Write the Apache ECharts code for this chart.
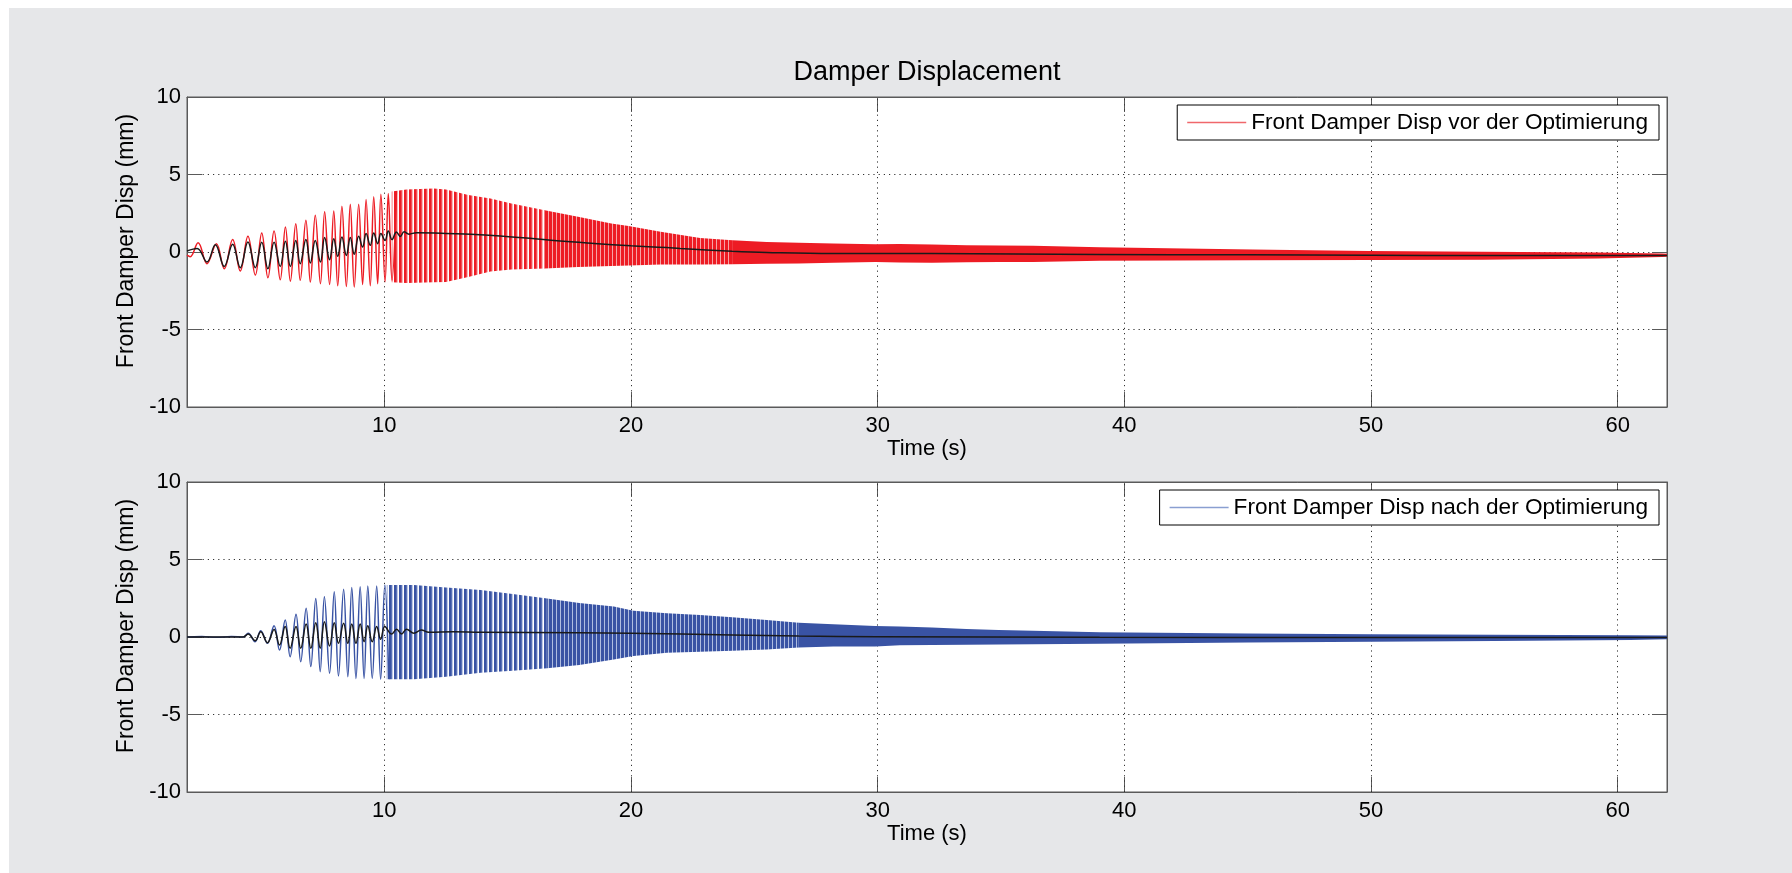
<!DOCTYPE html>
<html><head><meta charset="utf-8">
<script src="https://cdn.jsdelivr.net/npm/echarts@6/dist/echarts.min.js"></script>
<style>
html,body{margin:0;padding:0;background:#fff;width:1792px;height:873px;overflow:hidden}
#c{position:absolute;left:9px;top:8px;width:1783px;height:865px;}
</style></head>
<body><div id="c"></div>
<script>
// ---------- data ----------
const xTickLabels = [10, 20, 30, 40, 50, 60];

// Top plot: red signal, individual visible extrema (t, value)
const redT = [2.0,2.13,2.45,2.81,3.19,3.51,3.85,4.16,4.47,4.77,5.03,5.28,5.53,5.78,5.99,6.19,6.41,6.59,6.82,7.0,7.2,7.41,7.58,7.78,7.95,8.11,8.28,8.46,8.62,8.78,8.96,9.12,9.26,9.43,9.57,9.73,9.86,10.03,10.16,10.31,10.49];
const redV = [-0.2,-0.3,0.6,-0.75,0.54,-1.08,0.8,-1.23,1.01,-1.49,1.23,-1.66,1.36,-1.79,1.62,-1.88,1.83,-1.83,2.05,-1.94,2.37,-2.05,2.59,-2.09,2.65,-2.18,2.95,-2.22,3.08,-2.26,3.08,-2.09,3.38,-2.18,3.56,-2.05,3.73,-1.92,3.77,-1.83,3.94];
// Top plot: red dense part, envelope (upper / lower)
const redBandT  = [10.3,10.9,12.0,12.5,13.4,14.3,15.15,16.5,17.85,19.2,19.9,21.2,22.8,24.1,25.5,26.8,28.2,29.9,30.9,32.2,33.6,34.9,36.3,39.0,45.2,49.9,54.5,59.2,61.8,62.0];
const redBandHi = [3.9,4.03,4.1,4.03,3.67,3.45,3.13,2.7,2.27,1.84,1.67,1.3,0.91,0.76,0.65,0.59,0.55,0.5,0.52,0.48,0.44,0.42,0.4,0.3,0.16,0.07,0.02,-0.03,-0.1,-0.12];
const redBandLo = [-1.95,-2.0,-1.95,-1.93,-1.61,-1.25,-1.13,-1.06,-0.96,-0.9,-0.87,-0.8,-0.8,-0.79,-0.76,-0.74,-0.7,-0.64,-0.68,-0.7,-0.66,-0.64,-0.64,-0.57,-0.53,-0.51,-0.5,-0.42,-0.32,-0.3];
// Top plot: black curve
const blackTopT = [2.0,2.41,2.81,3.15,3.51,3.85,4.16,4.47,4.77,5.03,5.28,5.53,5.78,5.99,6.19,6.41,6.59,6.82,7.0,7.2,7.41,7.58,7.78,7.95,8.11,8.28,8.46,8.62,8.78,8.96,9.12,9.26,9.43,9.57,9.73,9.86,10.03,10.16,10.31,10.49,10.65,10.8,11.0,11.3,12.5,13.5,14.7,16.0,17.0,18.5,20.0,21.45,22.0,24.1,25.5,28.2,30.0,32.2,39.0,45.0,50.0,54.5,59.0,62.0];
const blackTopV = [0.06,0.22,-0.65,0.47,-0.93,0.5,-1.01,0.65,-1.01,0.63,-1.08,0.63,-0.93,0.69,-0.93,0.75,-0.75,0.8,-0.71,0.75,-0.65,0.93,-0.5,0.86,-0.28,0.97,-0.22,0.93,-0.15,1.01,0.32,1.19,0.43,1.23,0.54,1.19,0.75,1.36,0.8,1.29,1.0,1.3,1.15,1.25,1.19,1.15,1.04,0.87,0.72,0.55,0.4,0.29,0.22,0.05,-0.03,-0.1,-0.1,-0.1,-0.16,-0.18,-0.21,-0.23,-0.23,-0.22];

// Bottom plot: blue signal, visible extrema
const blueT = [2.0,2.6,3.2,3.8,4.28,4.48,4.76,4.99,5.26,5.53,5.75,5.98,6.18,6.42,6.61,6.83,7.02,7.22,7.4,7.57,7.78,7.97,8.14,8.35,8.52,8.68,8.85,9.02,9.18,9.33,9.51,9.69,9.85,10.02,10.18];
const blueV = [0.0,0.03,-0.02,0.03,0.0,0.24,-0.3,0.41,-0.41,0.73,-0.84,1.1,-1.27,1.46,-1.59,1.85,-1.91,2.49,-2.24,2.6,-2.34,2.92,-2.52,3.08,-2.56,3.2,-2.67,3.25,-2.67,3.29,-2.67,3.29,-2.73,3.35,-2.73];
// Bottom plot: blue dense part, envelope
const blueBandT  = [10.1,11.2,12.5,13.9,15.2,16.6,17.9,19.3,20.1,21.45,22.8,24.1,25.5,26.8,28.2,29.9,30.9,32.2,33.6,34.9,36.3,39.0,45.0,50.0,55.0,60.5,62.0];
const blueBandHi = [3.35,3.35,3.2,3.03,2.77,2.49,2.2,1.96,1.7,1.53,1.42,1.27,1.1,0.92,0.82,0.71,0.67,0.62,0.52,0.45,0.41,0.3,0.22,0.18,0.15,0.12,0.1];
const blueBandLo = [-2.73,-2.73,-2.56,-2.3,-2.17,-2.02,-1.81,-1.45,-1.23,-1.01,-0.95,-0.88,-0.8,-0.67,-0.62,-0.62,-0.54,-0.52,-0.5,-0.49,-0.47,-0.43,-0.35,-0.3,-0.25,-0.19,-0.15];
// Bottom plot: black curve
const blackBotT = [2.0,4.28,4.48,4.76,4.99,5.26,5.53,5.75,5.98,6.18,6.42,6.61,6.83,7.02,7.22,7.4,7.57,7.78,7.97,8.14,8.35,8.52,8.68,8.85,9.02,9.18,9.33,9.51,9.69,9.85,10.02,10.3,10.5,10.7,10.9,11.2,11.5,11.8,12.8,13.9,17.9,20.0,24.1,26.8,30.0,39.0,50.0,62.0];
const blackBotV = [0.0,0.0,0.19,-0.24,0.34,-0.37,0.49,-0.52,0.67,-0.73,0.67,-0.73,0.84,-0.73,0.92,-0.73,0.99,-0.58,0.92,-0.41,0.88,-0.41,0.84,-0.41,0.84,-0.3,0.73,-0.3,0.67,-0.15,0.67,0.19,0.5,0.2,0.5,0.25,0.45,0.3,0.34,0.3,0.28,0.24,0.13,0.06,0.02,-0.02,-0.03,-0.03];

const nameRed = 'Front Damper Disp vor der Optimierung';
const nameBlue = 'Front Damper Disp nach der Optimierung';

// ---------- styles ----------
const FONT = '"Liberation Sans", Arial, Helvetica, sans-serif';
const RED = '#ED1C24', BLUE = '#3953A4', BLACK = '#1a1a1a', AXIS = '#5a5a5a';

function stripes(cols) {
  const c = document.createElement('canvas');
  c.width = cols.length; c.height = 2;
  const ctx = c.getContext('2d');
  cols.forEach((col, i) => { ctx.fillStyle = col; ctx.fillRect(i, 0, 1, 2); });
  return { image: c, repeat: 'repeat' };
}
const zip = (T, V) => T.map((t, i) => [t, V[i]]);

function band(xi, yi, T, Hi, Lo, t0, t1, fill) {
  return {
    type: 'custom', xAxisIndex: xi, yAxisIndex: yi, silent: true, z: 2, clip: true,
    data: [[t0, 0]],
    renderItem: function (params, api) {
      const pts = [];
      for (let i = 0; i < T.length; i++) if (T[i] >= t0 && T[i] <= t1) pts.push(api.coord([T[i], Hi[i]]));
      for (let i = T.length - 1; i >= 0; i--) if (T[i] >= t0 && T[i] <= t1) pts.push(api.coord([T[i], Lo[i]]));
      return { type: 'polygon', shape: { points: pts }, style: { fill: fill, stroke: null } };
    }
  };
}
function gridLines(xi, yi) {
  return {
    type: 'line', xAxisIndex: xi, yAxisIndex: yi, data: [], z: 1, silent: true,
    markLine: {
      z: 1, silent: true, symbol: 'none', label: { show: false },
      lineStyle: { type: [1.2, 4], color: '#333', width: 1 },
      data: xTickLabels.map(v => ({ xAxis: v }))
    }
  };
}
function sigLine(name, xi, yi, T, V, color, w, z) {
  return {
    type: 'line', name: name, xAxisIndex: xi, yAxisIndex: yi, data: zip(T, V),
    showSymbol: false, symbol: 'none', smooth: 0.4, z: z,
    lineStyle: { color: color, width: w }, itemStyle: { color: color }
  };
}
const lineStyle = { color: AXIS, width: 1 };
function xAxes(gi) {
  return [{
    gridIndex: gi, type: 'value', min: 2, max: 62, position: 'bottom',
    axisLine: { show: true, onZero: false, lineStyle },
    axisTick: { show: true, inside: true, length: 15, customValues: xTickLabels, lineStyle },
    axisLabel: { customValues: xTickLabels, fontSize: 22, color: '#000', margin: 8, fontFamily: FONT },
    splitLine: { show: false },
    name: 'Time (s)', nameLocation: 'middle', nameGap: 31,
    nameTextStyle: { fontSize: 22, color: '#000', fontFamily: FONT }
  }, {
    gridIndex: gi, type: 'value', min: 2, max: 62, position: 'top',
    axisLine: { show: true, onZero: false, lineStyle },
    axisTick: { show: true, inside: true, length: 15, customValues: xTickLabels, lineStyle },
    axisLabel: { show: false }, splitLine: { show: false }
  }];
}
function yAxes(gi) {
  return [{
    gridIndex: gi, type: 'value', min: -10, max: 10, interval: 5, position: 'left',
    axisLine: { show: true, onZero: false, lineStyle },
    axisTick: { show: true, inside: true, length: 15, lineStyle },
    axisLabel: { fontSize: 22, color: '#000', margin: 6, fontFamily: FONT },
    splitLine: { show: true, lineStyle: { type: [1.2, 4], color: '#333', width: 1 } },
    name: 'Front Damper Disp (mm)', nameLocation: 'middle', nameGap: 48,
    nameTextStyle: { fontSize: 23, color: '#000', fontFamily: FONT, padding: [0, 0, 0, 22] }
  }, {
    gridIndex: gi, type: 'value', min: -10, max: 10, interval: 5, position: 'right',
    axisLine: { show: true, onZero: false, lineStyle },
    axisTick: { show: true, inside: true, length: 15, lineStyle },
    axisLabel: { show: false }, splitLine: { show: false }
  }];
}
function legend(name, top, col) {
  return {
    data: [name], right: 133, top: top, icon: 'rect', itemWidth: 59, itemHeight: 1.5,
    borderColor: '#000', borderWidth: 1, borderRadius: 0, backgroundColor: '#fff',
    padding: [6, 11, 6, 10], selectedMode: false,
    itemStyle: { color: col },
    textStyle: { fontSize: 22.6, color: '#000', fontFamily: FONT }
  };
}

const redA = stripes([RED, RED, '#F24E55', '#F9B4B6', '#FFFFFF']);
const redB = stripes([RED, RED, RED, '#F7A3A6']);
const blueA = stripes([BLUE, BLUE, '#5A72B6', '#BCC7E6', '#FFFFFF']);
const blueB = stripes([BLUE, BLUE, BLUE, '#AFBDE0']);

const option = {
  backgroundColor: '#e6e7e9',
  animation: false,
  title: {
    text: 'Damper Displacement', left: 918, top: 51, textAlign: 'center', padding: 0,
    textStyle: { fontSize: 27, fontWeight: 'normal', color: '#000', fontFamily: FONT }
  },
  legend: [legend(nameRed, 97, '#F0676B'), legend(nameBlue, 482, '#8A9FD1')],
  grid: [
    { left: 178, right: 125, top: 89, height: 310, show: true, backgroundColor: '#fff', borderColor: AXIS, borderWidth: 1 },
    { left: 178, right: 125, top: 474, height: 310, show: true, backgroundColor: '#fff', borderColor: AXIS, borderWidth: 1 }
  ],
  xAxis: [...xAxes(0), ...xAxes(1)],
  yAxis: [...yAxes(0), ...yAxes(1)],
  series: [
    gridLines(0, 0),
    gridLines(2, 2),
    band(0, 0, redBandT, redBandHi, redBandLo, 10.3, 16.5, redA),
    band(0, 0, redBandT, redBandHi, redBandLo, 16.5, 24.1, redB),
    band(0, 0, redBandT, redBandHi, redBandLo, 24.1, 62, RED),
    sigLine(nameRed, 0, 0, redT, redV, RED, 1.5, 3),
    sigLine('black top', 0, 0, blackTopT, blackTopV, BLACK, 1.5, 4),
    band(2, 2, blueBandT, blueBandHi, blueBandLo, 10.1, 16.6, blueA),
    band(2, 2, blueBandT, blueBandHi, blueBandLo, 16.6, 26.8, blueB),
    band(2, 2, blueBandT, blueBandHi, blueBandLo, 26.8, 62, BLUE),
    sigLine(nameBlue, 2, 2, blueT, blueV, BLUE, 1.5, 3),
    sigLine('black bottom', 2, 2, blackBotT, blackBotV, BLACK, 1.5, 4)
  ]
};
const chart = echarts.init(document.getElementById('c'), null, { renderer: 'canvas' });
chart.setOption(option);
</script></body></html>
